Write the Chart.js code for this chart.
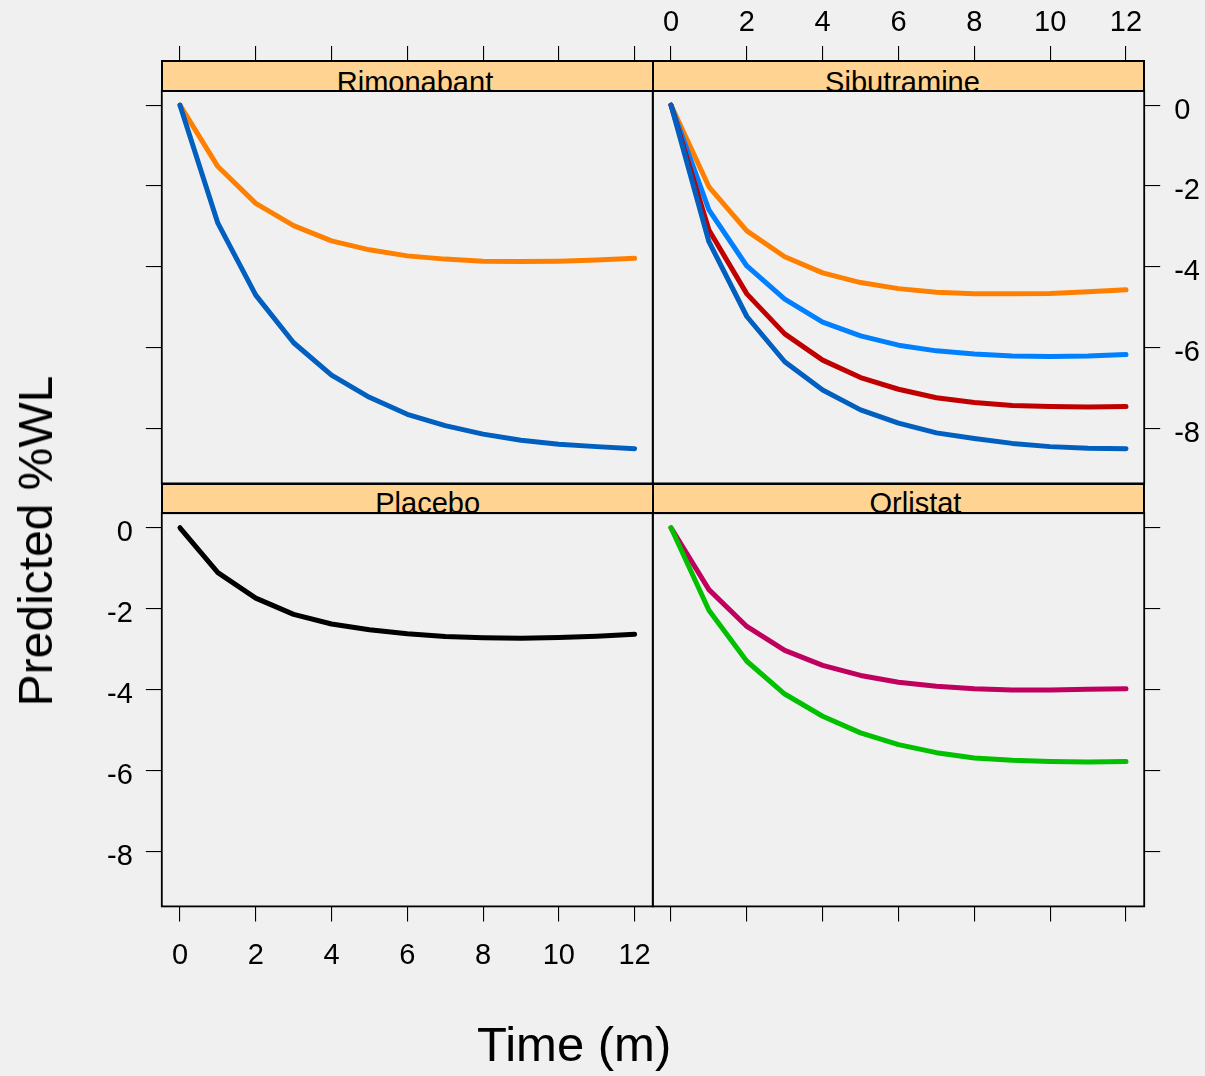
<!DOCTYPE html>
<html>
<head>
<meta charset="utf-8">
<script src="https://cdn.jsdelivr.net/npm/chart.js@4/dist/chart.umd.min.js"></script>
<style>
html,body{margin:0;padding:0;background:#f0f0f0;}
#wrap{position:relative;width:1205px;height:1076px;overflow:hidden;background:#f0f0f0;font-family:"Liberation Sans",Arial,sans-serif;color:#000;}
#wrap canvas{position:absolute;left:0;top:0;z-index:1;}
.strip{position:absolute;box-sizing:border-box;border:2px solid #000;background:#FFD391;overflow:hidden;z-index:5;}
.strip span{position:absolute;font-size:29px;line-height:29px;white-space:nowrap;transform:translateX(-50%);}
.title{position:absolute;white-space:nowrap;z-index:6;}
</style>
</head>
<body>
<div id="wrap">
  <canvas id="c0" width="1205" height="1076"></canvas>
  <canvas id="c1" width="1205" height="1076"></canvas>
  <canvas id="c2" width="1205" height="1076"></canvas>
  <canvas id="c3" width="1205" height="1076"></canvas>
  <div class="strip" style="left:161px;top:60.3px;width:492.8px;height:31.3px;"><span id="s0" style="left:252px;top:5.6px;"></span></div>
  <div class="strip" style="left:651.8px;top:60.3px;width:493.4px;height:31.3px;"><span id="s1" style="left:248.7px;top:5.6px;"></span></div>
  <div class="strip" style="left:161px;top:483.3px;width:492.8px;height:30.9px;"><span id="s2" style="left:264.7px;top:3.6px;"></span></div>
  <div class="strip" style="left:651.8px;top:483.3px;width:493.4px;height:30.9px;"><span id="s3" style="left:261.7px;top:3.6px;"></span></div>
  <div class="title" style="left:574.2px;top:1020.3px;font-size:49px;line-height:49px;transform:translateX(-50%);">Time (m)</div>
  <div class="title" style="left:35.6px;top:541px;font-size:48px;line-height:48px;transform:translate(-50%,-50%) rotate(-90deg);">Predicted %WL</div>
</div>
<script>
// ---- data ----
const months = [0, 1, 2, 3, 4, 5, 6, 7, 8, 9, 10, 11, 12];
const xTickValues = [0, 2, 4, 6, 8, 10, 12];
const yTickValues = [0, -2, -4, -6, -8];
const panelNames = ['Rimonabant', 'Sibutramine', 'Placebo', 'Orlistat'];

const rimonabantOrange = [0, -1.52, -2.43, -2.98, -3.36, -3.58, -3.73, -3.81, -3.86, -3.87, -3.86, -3.83, -3.79];
const rimonabantBlue   = [0, -2.92, -4.70, -5.88, -6.68, -7.23, -7.65, -7.93, -8.14, -8.29, -8.39, -8.45, -8.50];

const sibutramineOrange    = [0, -2.02, -3.11, -3.75, -4.15, -4.39, -4.54, -4.63, -4.67, -4.67, -4.66, -4.62, -4.57];
const sibutramineLightBlue = [0, -2.59, -3.98, -4.80, -5.37, -5.71, -5.94, -6.08, -6.16, -6.21, -6.22, -6.21, -6.17];
const sibutramineRed       = [0, -3.09, -4.67, -5.66, -6.31, -6.74, -7.03, -7.24, -7.36, -7.43, -7.46, -7.47, -7.46];
const sibutramineBlue      = [0, -3.38, -5.23, -6.35, -7.05, -7.54, -7.87, -8.11, -8.25, -8.37, -8.45, -8.49, -8.50];

const placeboBlack = [0, -1.11, -1.74, -2.14, -2.38, -2.52, -2.62, -2.69, -2.72, -2.73, -2.71, -2.68, -2.63];

const orlistatMagenta = [0, -1.53, -2.44, -3.03, -3.40, -3.65, -3.82, -3.92, -3.98, -4.01, -4.01, -3.99, -3.98];
const orlistatGreen   = [0, -2.04, -3.30, -4.11, -4.66, -5.07, -5.36, -5.56, -5.69, -5.75, -5.78, -5.79, -5.78];

const xRange = [-0.48, 12.48];
const yRange = [-9.36, 0.36];

// ---- drawing ----
const W = 1205, H = 1076;
const FONT = "'Liberation Sans', Arial, sans-serif";

panelNames.forEach((n, i) => { document.getElementById('s' + i).textContent = n; });

function mkScale(axis, position, mode, tickLen, pad, fitSize) {
  const tickVals = axis === 'x' ? xTickValues : yTickValues;
  const range = axis === 'x' ? xRange : yRange;
  return {
    type: 'linear', axis: axis, position: position,
    min: range[0], max: range[1],
    afterBuildTicks: s => { s.ticks = tickVals.map(v => ({ value: v })); },
    afterFit: s => { if (axis === 'x') s.height = fitSize; else s.width = fitSize; },
    grid: {
      display: mode !== 'none', drawOnChartArea: false, drawTicks: true,
      tickLength: tickLen, tickWidth: 1.1, tickColor: '#000', color: '#000', lineWidth: 1.1
    },
    border: { display: false },
    ticks: {
      display: mode === 'labels', padding: pad, color: '#000',
      labelOffset: axis === 'y' ? 5.5 : 0,
      font: { family: FONT, size: 29 }, autoSkip: false, maxRotation: 0, minRotation: 0,
      callback: v => String(v)
    }
  };
}

function ds(values, color) {
  return {
    data: months.map((m, i) => ({ x: m, y: values[i] })),
    borderColor: color, borderWidth: 5, pointRadius: 0, fill: false, tension: 0,
    borderCapStyle: 'round', borderJoinStyle: 'round', xAxisID: 'x', yAxisID: 'y'
  };
}

const borderPlugin = {
  id: 'panelBorder',
  afterDatasetsDraw(chart) {
    const { ctx, chartArea: a } = chart;
    ctx.save();
    ctx.strokeStyle = '#000';
    ctx.lineWidth = 1.8;
    ctx.strokeRect(a.left, a.top, a.right - a.left, a.bottom - a.top);
    ctx.restore();
  }
};

function panel(id, rect, datasets, modes) {
  const topLen = rect.t - 46;
  new Chart(document.getElementById(id), {
    type: 'line',
    data: { datasets: datasets },
    options: {
      responsive: false, maintainAspectRatio: false, animation: false, events: [],
      layout: { padding: 0 },
      plugins: { legend: { display: false }, tooltip: { enabled: false }, title: { display: false } },
      scales: {
        x:      mkScale('x', 'bottom', modes.bottom, 15, 17, H - rect.b),
        xTop:   mkScale('x', 'top',    modes.top,    topLen, 6, rect.t),
        y:      mkScale('y', 'left',   modes.left,   16, 13, rect.l),
        yRight: mkScale('y', 'right',  modes.right,  16, 14, W - rect.r)
      }
    },
    plugins: [borderPlugin]
  });
}

const xL0 = 161.8, xL1 = 652.8, xR0 = 652.8, xR1 = 1144.2;
const yT0 = 90.6, yT1 = 483.4, yB0 = 513.2, yB1 = 906.4;

panel('c0', { l: xL0, t: yT0, r: xL1, b: yT1 },
  [ds(rimonabantBlue, '#005FBF'), ds(rimonabantOrange, '#FF8000')],
  { top: 'ticks', left: 'ticks', bottom: 'none', right: 'none' });

panel('c1', { l: xR0, t: yT0, r: xR1, b: yT1 },
  [ds(sibutramineBlue, '#005FBF'), ds(sibutramineRed, '#C00000'),
   ds(sibutramineLightBlue, '#0080FF'), ds(sibutramineOrange, '#FF8000')],
  { top: 'labels', left: 'none', bottom: 'none', right: 'labels' });

panel('c2', { l: xL0, t: yB0, r: xL1, b: yB1 },
  [ds(placeboBlack, '#000000')],
  { top: 'none', left: 'labels', bottom: 'labels', right: 'none' });

panel('c3', { l: xR0, t: yB0, r: xR1, b: yB1 },
  [ds(orlistatGreen, '#00C000'), ds(orlistatMagenta, '#C0005F')],
  { top: 'none', left: 'none', bottom: 'ticks', right: 'ticks' });
</script>
</body>
</html>
